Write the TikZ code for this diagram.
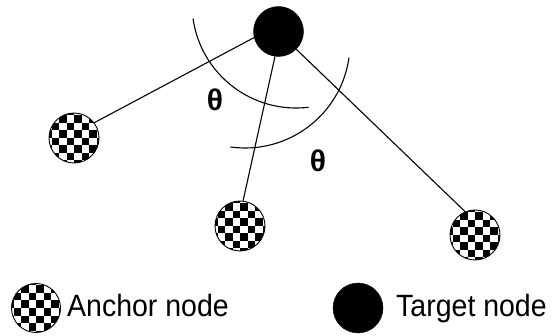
\documentclass[tikz,border=0pt]{standalone}
\usepackage{fontspec}
\setmainfont{Liberation Sans}
\begin{document}
\begin{tikzpicture}[x=1pt,y=1pt,
  link/.style={line width=1.1pt, black},
  anglearc/.style={line width=1.1pt, black},
  target/.style={circle, fill=black, draw=black, minimum size=50pt, inner sep=0pt},
  anchornode/.style={circle, draw=black, line width=0.9pt, minimum size=50pt, inner sep=0pt,
    path picture={
      \foreach \i in {-4,...,3}{
        \foreach \j in {-4,...,3}{
          \pgfmathtruncatemacro\chk{mod(\i+\j+16,2)}
          \ifnum\chk=0
            \fill[black, shift={(path picture bounding box.center)}]
              (\i*7.5pt,\j*7.5pt) rectangle ++(7.5pt,7.5pt);
          \fi
        }}
    }},
  legendtext/.style={anchor=base west, inner sep=0pt, yscale=1.08, font=\fontsize{28.5}{34}\selectfont},
  thetalabel/.style={inner sep=0pt, font=\fontsize{30}{36}\selectfont\bfseries}
]
\useasboundingbox (0,0) rectangle (552,335);

% target and anchor nodes
\node[target] (t) at (278.5,303.5) {};
\node[anchornode] (a1) at (74,197) {};
\node[anchornode] (a2) at (240,109) {};
\node[anchornode] (a3) at (475,100) {};

% links from the target to each anchor
\draw[link] (t.194) -- (a1.37);
\draw[link] (t.262) -- (a2.83);
\draw[link] (t.315) -- (a3.113);

% angle arcs
\coordinate (c1) at (296,331);
\coordinate (c2) at (245,292);
\draw[anglearc] ([shift={(188:104)}]c1) arc[start angle=188, end angle=277, radius=104];
\draw[anglearc] ([shift={(262:105)}]c2) arc[start angle=262, end angle=352, radius=105];

\node[thetalabel] (th1) at (215,235) {θ};
\node[thetalabel] (th2) at (318,174) {θ};

% legend
\node[anchornode, minimum size=49pt] (la) at (36,27) {};
\node[legendtext] (lat) at (67,18) {Anchor node};
\node[target] (lt) at (358,27) {};
\node[legendtext] (ltt) at (396,18) {Target node};
\end{tikzpicture}
\end{document}
